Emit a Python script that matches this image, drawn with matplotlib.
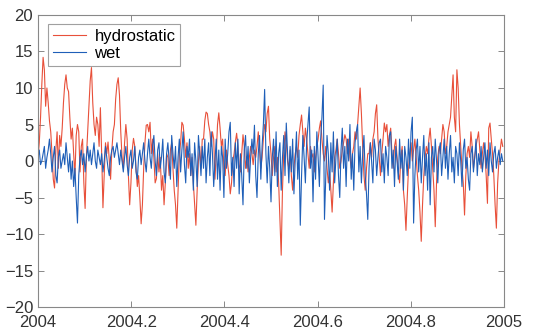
import numpy as np
import matplotlib
matplotlib.use("Agg")
import matplotlib.pyplot as plt

# daily delays over 2004 (one row = 10 days)
hydrostatic = [
    0.5, 2.5, 6.0, 10.5, 14.2, 12.5, 7.5, 10.0, 8.0, 5.5,
    4.0, 1.0, -2.5, -3.7, 1.5, 4.0, -1.0, 3.5, 2.0, 4.5,
    8.0, 10.5, 11.8, 10.0, 9.5, 6.0, 3.0, 4.5, 1.0, -2.0,
    3.5, 5.0, 4.0, -1.5, 2.0, 3.0, -3.0, -6.5, 0.5, 4.0,
    7.5, 11.0, 12.8, 8.0, 5.0, 3.5, 6.0, 5.0, 2.0, 7.3,
    1.0, -6.4, -2.0, 2.5, 1.0, 2.6, 0.0, -2.5, 1.5, 4.0,
    5.0, 8.5, 10.5, 11.4, 9.0, 4.0, 0.5, -1.0, 2.5, 5.0,
    3.0, -2.0, -6.0, -3.0, 1.5, 3.1, 2.0, -1.0, -3.5, -2.0,
    -5.0, -8.6, -6.0, -1.0, 2.5, 4.9, 5.0, 4.0, 5.3, 1.0,
    3.0, 0.5, -3.0, -2.4, 1.0, -1.5, 0.5, -4.0, -2.0, -6.0,
    -3.0, 1.0, 0.5, -2.0, 1.5, 2.5, -1.0, -4.0, -6.0, -9.2,
    -4.0, 1.0, 2.5, 5.3, 4.9, 3.0, 0.5, 2.5, -1.0, 1.0,
    -2.0, 0.5, -3.0, -6.0, -8.8, -4.0, 0.0, 2.0, -1.0, 3.0,
    3.0, 5.5, 6.7, 6.5, 5.0, 4.0, 2.0, 4.0, 3.0, -2.5,
    1.0, 5.0, 6.6, 4.5, 2.0, 3.0, -1.0, -2.0, 1.5, -0.5,
    -2.0, -4.5, -3.0, 0.0, 1.0, 2.6, 3.8, 2.0, -0.5, -1.5,
    1.0, 3.6, 2.0, -1.0, 0.5, -1.5, 0.5, 2.0, 1.0, -0.5,
    1.5, 0.5, 2.0, 4.0, 1.5, -1.0, 0.5, 3.0, 5.0, 4.0,
    6.5, 7.5, 3.0, 1.0, -2.0, 0.5, 2.0, -1.5, 0.5, -3.0,
    -8.0, -12.9, -4.0, 1.0, 4.0, 2.5, 0.0, -1.0, 1.5, -2.0,
    -4.0, -1.0, 1.0, 2.0, 0.5, 3.5, 5.0, 6.3, 4.0, 2.0,
    4.5, 3.0, 1.0, -1.0, 2.0, 0.5, 1.0, -1.5, 0.5, 2.0,
    3.0, 4.5, 5.5, 3.0, 1.0, 0.0, 2.0, -1.0, -3.0, -1.5,
    -4.0, -7.0, -3.0, 0.5, 1.5, 3.0, 1.0, -1.0, 0.0, 1.5,
    2.5, 3.6, 3.0, 1.0, 3.0, 0.5, -1.0, 1.0, 2.0, 4.0,
    3.0, 5.0, 7.5, 10.0, 6.5, 2.0, -2.0, -4.0, -1.0, 1.0,
    1.0, 2.5, 0.5, 3.0, 4.0, 6.5, 7.7, 3.0, 0.5, -2.0,
    1.0, 3.0, 5.2, 4.0, 5.0, 2.0, 3.5, 4.5, 1.0, -1.0,
    2.0, 3.0, 0.5, -1.5, -3.0, 0.5, 2.0, -4.0, -6.0, -9.5,
    -5.0, -1.0, 1.0, 2.5, 0.0, 1.5, 3.0, 0.5, -2.0, -4.0,
    -7.0, -11.0, -6.0, -2.0, 0.5, 2.0, 1.0, 3.0, 4.5, 2.0,
    -1.0, -4.0, -9.0, -3.0, 0.5, 2.0, 1.0, 3.0, 5.0, 4.0,
    1.0, 2.0, 4.0, 5.0, 6.0, 9.0, 11.8, 6.0, 4.0, 12.5,
    10.0, 5.0, 2.0, -1.0, -3.0, -7.4, -2.0, 1.0, 2.0, 0.5,
    4.0, 2.0, -1.0, 0.5, 2.0, 3.0, 4.0, 1.5, -1.0, 1.0,
    2.5, 1.0, -2.0, -5.8, 4.5, 5.2, 3.0, 1.0, -2.0, -6.0,
    -9.2, -3.0, 0.0, 1.5, 3.0, 2.0,
]

wet = [
    0.5, 1.5, -0.5, 0.0, 1.0, 2.0, -1.0, 0.5, 1.5, 3.0,
    1.0, -1.5, 0.5, 2.0, -2.0, -3.0, 0.5, 1.5, -1.0, 0.0,
    1.0, -0.5, 2.5, 0.5, -1.5, 1.0, -2.5, 0.0, -3.5, -1.0,
    -5.0, -8.5, -2.0, 0.5, 1.5, -0.5, 1.0, -1.5, 0.5, 2.0,
    0.0, 1.5, -0.5, 1.0, 2.5, 0.0, -1.0, 1.5, 0.5, -0.5,
    1.0, -1.5, 0.0, 2.0, 0.5, -1.0, -2.0, 0.5, 1.5, 2.0,
    0.5, 1.5, 2.5, 1.0, -0.5, 1.5, 0.0, -1.5, 0.5, 2.0,
    -0.5, -2.0, 0.5, 1.5, -1.0, 0.0, 2.0, -1.5, -2.5, 0.5,
    1.5, -0.5, 1.0, 2.5, 0.0, -1.5, 1.0, 3.0, 0.5, -1.0,
    2.0, 3.5, 0.0, -2.0, 1.5, 2.5, -1.0, 0.5, 3.0, -1.5,
    -3.0, 1.0, 2.5, 0.0, -2.5, 3.5, 1.0, -1.0, 2.0, -3.5,
    0.5, 3.0, -1.5, 1.5, 4.0, -0.5, -3.0, 2.0, 0.5, 3.0,
    -2.0, 1.0, -4.0, 2.5, 0.0, -3.5, 3.5, 1.0, -2.0, 2.0,
    -1.0, 3.0, -3.0, 0.5, 2.5, -2.0, 4.0, 1.0, -3.5, 0.0,
    3.0, -2.5, 1.5, -4.0, 2.0, 0.5, -5.0, 3.0, -1.0, 1.0,
    4.0, 5.3, -2.0, 0.5, -3.5, 2.5, -1.0, 3.0, -4.5, 1.0,
    -2.0, -6.0, 1.5, 3.5, -1.0, 2.0, -3.0, 0.5, 3.0, 1.0,
    4.9, -2.0, -5.0, 1.0, 3.5, -2.5, 2.0, 5.0, 9.8, 1.0,
    -3.0, 2.0, -1.0, -5.6, 0.5, 3.0, -2.0, 4.0, -3.5, 1.0,
    2.5, -4.0, 0.5, 3.5, -2.0, 5.2, 1.0, -3.0, 2.0, -1.5,
    3.0, -4.5, 0.0, 4.0, -2.5, 1.5, -8.8, -2.0, 3.5, 0.5,
    -3.0, 2.5, 5.0, 7.4, -1.0, 1.5, -5.6, 2.0, -2.5, 4.0,
    0.5, -3.5, 3.0, 6.0, 10.4, -8.0, -2.0, 3.5, 1.0, -4.0,
    2.5, -1.5, 4.0, -3.0, 0.5, 3.0, -2.0, -5.0, 1.5, 4.5,
    -1.0, 2.0, -3.5, 3.0, 0.0, 5.0, -2.5, 1.0, -4.0, 2.5,
    4.0, 5.0, -1.5, 2.0, -3.0, 1.0, 3.5, -2.0, -4.5, -8.0,
    -1.0, 2.5, 0.0, -3.0, 3.0, 1.5, -2.0, 0.5, 2.5, 3.0,
    -1.5, 1.0, -3.0, 2.0, 0.5, -2.0, 3.5, 4.0, -1.0, 1.5,
    -3.5, 2.0, 0.0, -2.5, 3.0, -1.0, 1.5, -4.0, 2.0, 0.5,
    -2.0, 3.0, -1.0, 4.0, 6.0, -8.5, -2.0, 1.5, 3.0, -1.5,
    2.0, -3.0, 0.5, 3.5, -2.0, 1.0, -4.0, 2.5, -6.0, 0.5,
    2.0, -1.5, 3.0, 0.0, -3.0, 1.5, 2.5, -2.0, 0.5, 3.0,
    -1.0, 2.0, -2.5, 1.0, 3.5, -1.5, 0.5, -3.0, 2.0, 1.0,
    -2.0, 2.5, 0.0, -3.5, 1.5, 3.0, -1.0, 0.5, -2.5, -4.0,
    1.0, 2.0, -1.5, 0.5, 3.0, -2.0, 1.0, -0.5, 2.0, -1.5,
    0.5, 2.5, -1.0, 1.5, -2.0, 2.5, 0.0, -1.5, 1.0, 2.0,
    -1.0, 0.5, 1.5, -0.5, 1.0, 0.0,
]

# decimal year for each daily sample
t = 2004 + np.arange(len(hydrostatic)) / len(hydrostatic)

plt.rcParams["font.family"] = ["Liberation Sans", "DejaVu Sans"]

fig = plt.figure(figsize=(5.33, 3.33), dpi=100)
ax = fig.add_axes([0.0713, 0.078, 0.8743, 0.877])

ax.plot(t, hydrostatic, color="#e8503a", linewidth=0.8, label="hydrostatic")
ax.plot(t, wet, color="#1f5fb8", linewidth=0.8, label="wet")

ax.set_xlim(2004, 2005)
ax.set_ylim(-20, 20)
ax.set_xticks([2004, 2004.2, 2004.4, 2004.6, 2004.8, 2005])
ax.set_xticklabels(["2004", "2004.2", "2004.4", "2004.6", "2004.8", "2005"])
ax.set_yticks(range(-20, 21, 5))

for sp in ax.spines.values():
    sp.set_color("#888888")
    sp.set_linewidth(0.8)
ax.tick_params(direction="in", top=True, right=True, length=4, width=0.7,
               color="#888888", labelsize=12, labelcolor="#333333")
ax.tick_params(axis="x", pad=6)

leg = ax.legend(loc="upper left", fontsize=12, handlelength=2.0,
                borderpad=0.3, labelspacing=0.1, handletextpad=0.5,
                borderaxespad=0, fancybox=False, bbox_to_anchor=(0.021, 0.969))
leg.get_frame().set_edgecolor("#888888")
leg.get_frame().set_linewidth(0.8)

plt.savefig("out.png", dpi=100, facecolor="white")
plt.close()
